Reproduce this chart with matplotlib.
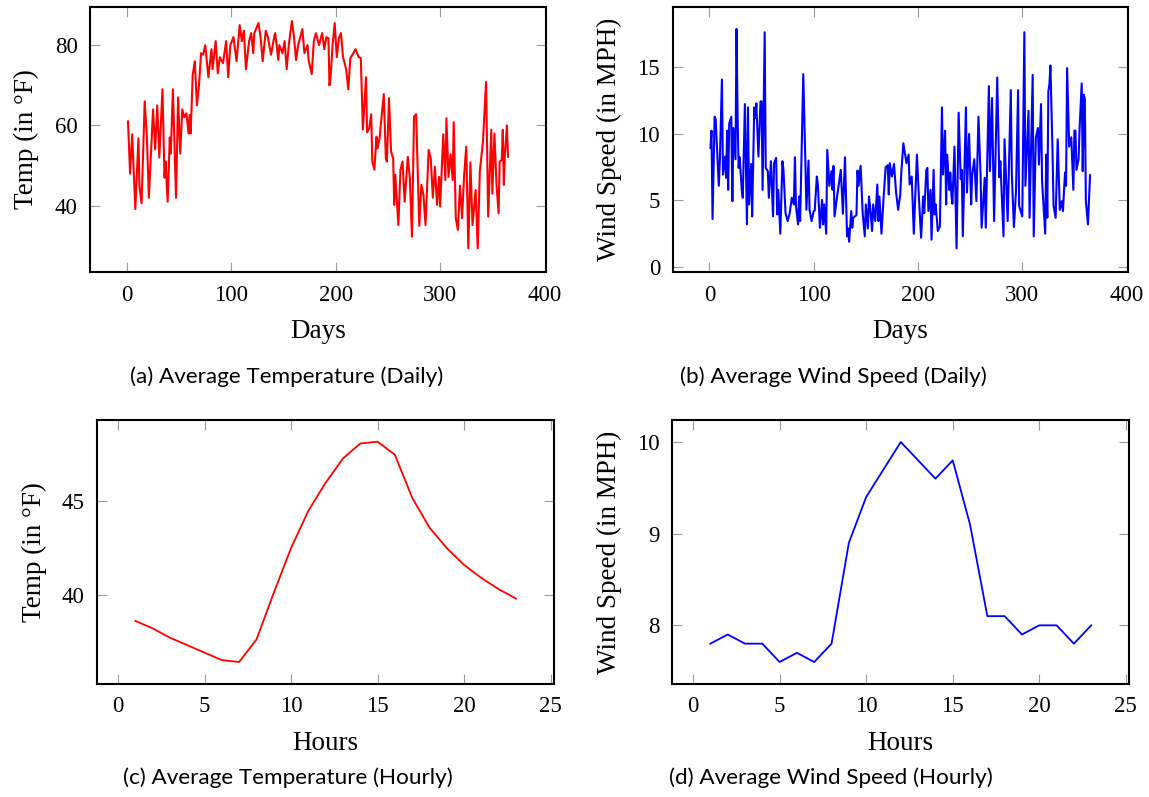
import matplotlib
matplotlib.use("Agg")
import matplotlib.pyplot as plt

# daily values (day of year, value)
temp_days = [1, 3, 5, 8, 11, 12, 14, 17, 19, 21,
             25, 27, 29, 31, 34, 36, 37, 39, 41, 42,
             44, 47, 49, 51, 53, 55, 57, 59, 60, 61,
             63, 65, 67, 69, 71, 73, 75, 78, 81, 82,
             85, 87, 89, 92, 95, 97, 99, 102, 105, 108,
             110, 112, 114, 117, 119, 121, 122, 126, 128, 130,
             133, 135, 138, 141, 142, 145, 146, 149, 151, 153,
             155, 158, 160, 162, 164, 166, 168, 170, 173, 174,
             177, 179, 181, 184, 187, 189, 191, 193, 194, 195,
             197, 199, 201, 203, 205, 207, 210, 212, 214, 216,
             219, 222, 224, 226, 229, 230, 232, 234, 235, 237,
             239, 240, 242, 243, 246, 248, 249, 251, 253, 255,
             256, 257, 260, 262, 264, 266, 269, 271, 273, 275,
             277, 280, 282, 284, 286, 289, 291, 293, 295, 297,
             299, 300, 302, 303, 305, 306, 308, 310, 312, 313,
             315, 317, 319, 321, 323, 325, 327, 329, 331, 334,
             336, 338, 341, 344, 346, 349, 350, 352, 354, 356,
             357, 359, 360, 361, 362, 364, 365]
daily_temp = [61, 48, 57.8, 39.2, 56.8, 44.8, 40.6, 66, 57.6, 42,
              64, 54, 65, 52, 69, 47, 51, 41, 57, 53,
              69, 42, 67, 53, 64, 62, 63, 58, 62.6, 58,
              72.6, 76, 65, 70, 78, 77.6, 80, 72, 79, 74,
              81, 73, 77, 75.5, 81, 72, 80, 82, 76, 85,
              81, 83.6, 74, 81, 83, 78, 83, 85.5, 82, 76,
              83.6, 82, 77.6, 82, 83, 76.3, 80, 78, 81, 74,
              80, 86, 82, 76.3, 80, 82, 84, 78, 80, 76.3,
              72.8, 81, 83, 80, 83, 79, 82, 81.7, 70, 71.8,
              80, 85.5, 77, 81.7, 83, 77, 74, 69, 76.8, 77.6,
              79, 77, 76.8, 59, 72, 58.3, 59.3, 62.8, 51, 49,
              57.2, 54.3, 56.8, 59.7, 67.8, 51.8, 51, 66.8, 53.5, 51.8,
              40.2, 47.7, 35.2, 49, 51, 41, 52.2, 46.8, 32.3, 62.2,
              62.8, 35, 45.2, 42.7, 35.2, 53.9, 51.8, 42, 49.7, 40.2,
              47.2, 39.8, 51.8, 57.8, 46.4, 61.8, 47.2, 52.8, 46.4, 60.8,
              36.9, 34, 45, 36.9, 47.7, 54.7, 29.4, 50.8, 35.2, 43.9,
              29.4, 48.5, 56, 70.8, 37.3, 58.9, 43, 58, 45.2, 38.1,
              51, 51.4, 58.9, 45.2, 52.6, 60, 52.2]

wind_days = [1, 2, 3, 5, 6, 9, 10, 12, 13, 15,
             16, 17, 18, 19, 21, 22, 23, 25, 26, 27,
             28, 29, 31, 32, 34, 36, 37, 38, 40, 41,
             43, 44, 45, 47, 49, 50, 51, 53, 54, 56,
             57, 59, 61, 62, 64, 65, 66, 68, 70, 71,
             73, 75, 77, 79, 81, 82, 83, 85, 86, 87,
             90, 92, 93, 95, 96, 98, 100, 101, 103, 104,
             106, 108, 109, 110, 112, 113, 115, 117, 118, 119,
             120, 122, 124, 126, 128, 130, 132, 133, 134, 136,
             137, 138, 141, 142, 143, 145, 147, 149, 150, 152,
             153, 154, 156, 157, 159, 161, 162, 163, 165, 167,
             169, 171, 172, 173, 175, 177, 179, 181, 183, 184,
             186, 188, 189, 191, 192, 194, 196, 199, 201, 203,
             205, 206, 208, 209, 210, 212, 213, 215, 216, 217,
             219, 221, 223, 224, 226, 227, 228, 230, 231, 232,
             233, 235, 237, 239, 241, 242, 243, 246, 247, 249,
             251, 252, 254, 256, 257, 258, 260, 261, 264, 265,
             268, 269, 271, 273, 276, 278, 279, 282, 283, 286,
             289, 290, 292, 294, 296, 297, 300, 302, 303, 306,
             307, 310, 311, 313, 315, 316, 318, 319, 322, 323,
             324, 325, 326, 327, 329, 330, 332, 334, 336, 338,
             339, 341, 342, 343, 345, 347, 349, 350, 351, 352,
             354, 355, 357, 358, 359, 360, 361, 363, 365]
daily_wind = [8.95, 10.25, 3.6, 11.3, 11.1, 6.1, 7.95, 14.1, 6.95, 8.3,
              6.7, 10.25, 5.8, 10.8, 11.3, 4.95, 10.45, 8.1, 17.9, 11.45,
              7.45, 8.25, 5.8, 5.2, 12.25, 3.2, 12, 4.7, 7.75, 3.8,
              12, 11.2, 12.3, 8.3, 12.45, 12.45, 5.8, 17.65, 7.45, 7.2,
              5.2, 7.95, 3.8, 7.8, 8.2, 3.95, 5.8, 2.5, 7.95, 7.3,
              4.05, 3.45, 4.05, 5.2, 4.7, 8.25, 4.6, 3.2, 5.3, 3.45,
              14.5, 7.95, 4.3, 8, 4.3, 3.45, 4.2, 4.25, 6.8, 6.2,
              2.95, 5.05, 3.2, 4.7, 2.5, 8.8, 6.1, 7.2, 5.8, 7.6,
              3.8, 5.05, 6.2, 7.3, 4, 8.25, 2.3, 2.9, 1.9, 4.2,
              2.95, 3.7, 3.9, 7.25, 6.1, 7.6, 4, 2.3, 4.7, 2.9,
              5.3, 4.6, 2.7, 4.7, 3.45, 6.2, 3.45, 5.3, 2.5, 5.2,
              7.5, 7.65, 5.45, 7.8, 6.8, 7.75, 5.6, 4.3, 5.45, 7.1,
              9.3, 8.3, 7.8, 8.45, 6.2, 6.8, 2.5, 8.45, 5.05, 2.2,
              5.3, 4.05, 7.3, 7.45, 4.2, 5.8, 2.05, 7.3, 3.95, 4.7,
              2.7, 3.05, 12, 6.95, 10.25, 4.7, 8.45, 5.8, 7.1, 5.45,
              4.75, 9.05, 1.4, 11.6, 6.6, 7.3, 2.3, 12, 5.6, 10,
              4.7, 6.95, 8.1, 4.95, 8.1, 11.3, 6.95, 2.95, 6.7, 2.95,
              13.6, 7.2, 12.7, 3.45, 14.25, 6.75, 7.95, 2.3, 9.6, 3.45,
              13.3, 6.95, 3, 5.7, 13.3, 4.6, 3.8, 17.65, 6.1, 11.75,
              3.7, 14.45, 2.3, 9.7, 10.45, 7.7, 12.25, 6.45, 2.5, 8.45,
              3.7, 13.2, 13.7, 15.15, 8.75, 4.6, 3.7, 9.6, 4.3, 4.95,
              4.2, 7.1, 6.1, 14.95, 9.05, 9.75, 5.8, 10.25, 10.25, 7.3,
              8.1, 10.45, 13.8, 7.2, 12.95, 12.6, 4.95, 3.2, 6.9]

# hourly averages
hours = list(range(1, 24))
hourly_temp = [38.6, 38.2, 37.7, 37.3, 36.9, 36.5, 36.4, 37.6, 40.1, 42.5, 44.5, 46.0,
               47.3, 48.1, 48.2, 47.5, 45.2, 43.6, 42.5, 41.6, 40.9, 40.3, 39.8]
hourly_wind = [7.8, 7.9, 7.8, 7.8, 7.6, 7.7, 7.6, 7.8, 8.9, 9.4, 9.7, 10.0,
               9.8, 9.6, 9.8, 9.1, 8.1, 8.1, 7.9, 8.0, 8.0, 7.8, 8.0]

captions = ["(a) Average Temperature (Daily)", "(b) Average Wind Speed (Daily)",
            "(c) Average Temperature (Hourly)", "(d) Average Wind Speed (Hourly)"]

W, H = 1149, 797
SERIF = ["Liberation Serif", "DejaVu Serif"]
SANS = ["Lato", "DejaVu Sans"]

fig = plt.figure(figsize=(W / 100, H / 100), dpi=100)


def px_axes(left, right, top, bottom):
    return fig.add_axes([left / W, 1 - bottom / H, (right - left) / W, (bottom - top) / H])


def style(ax, xlabel, ylabel):
    for s in ax.spines.values():
        s.set_linewidth(1.5)
        s.set_color("black")
    ax.tick_params(direction="in", length=7, width=0.8, color="#999999",
                   top=True, right=True, labelsize=16.5, pad=9)
    for lab in ax.get_xticklabels() + ax.get_yticklabels():
        lab.set_family(SERIF)
    ax.set_xlabel(xlabel, family=SERIF, fontsize=19.5, labelpad=10)
    ax.set_ylabel(ylabel, family=SERIF, fontsize=19.5, labelpad=11)


ax_a = px_axes(90, 546, 7, 272)
ax_a.plot(temp_days, daily_temp, color="#ff0000", lw=1.5)
ax_a.set_xlim(-35.4, 401.4)
ax_a.set_ylim(23.5, 89.5)
ax_a.set_xticks([0, 100, 200, 300, 400])
ax_a.set_yticks([40, 60, 80])
style(ax_a, "Days", "Temp (in °F)")

ax_b = px_axes(672.5, 1128, 7, 272)
ax_b.plot(wind_days, daily_wind, color="#0000ff", lw=1.5)
ax_b.set_xlim(-35.4, 401.4)
ax_b.set_ylim(-0.38, 19.55)
ax_b.set_xticks([0, 100, 200, 300, 400])
ax_b.set_yticks([0, 5, 10, 15])
style(ax_b, "Days", "Wind Speed (in MPH)")

ax_c = px_axes(97.3, 554, 420, 684)
ax_c.plot(hours, hourly_temp, color="#ff0000", lw=1.3)
ax_c.set_xlim(-1.2, 25.2)
ax_c.set_ylim(35.22, 49.36)
ax_c.set_xticks([0, 5, 10, 15, 20, 25])
ax_c.set_yticks([40, 45])
style(ax_c, "Hours", "Temp (in °F)")

ax_d = px_axes(672.3, 1129.3, 420, 684)
ax_d.plot(hours, hourly_wind, color="#0000ff", lw=1.3)
ax_d.set_xlim(-1.2, 25.2)
ax_d.set_ylim(7.36, 10.24)
ax_d.set_xticks([0, 5, 10, 15, 20, 25])
ax_d.set_yticks([8, 9, 10])
style(ax_d, "Hours", "Wind Speed (in MPH)")

cap_pos = [(287, 377), (833, 377), (288, 778), (831, 778)]
for (cx, cy), cap in zip(cap_pos, captions):
    fig.text(cx / W, 1 - cy / H, cap, ha="center", va="center", family=SANS, fontsize=16.2)

fig.savefig("out.png", dpi=100)
